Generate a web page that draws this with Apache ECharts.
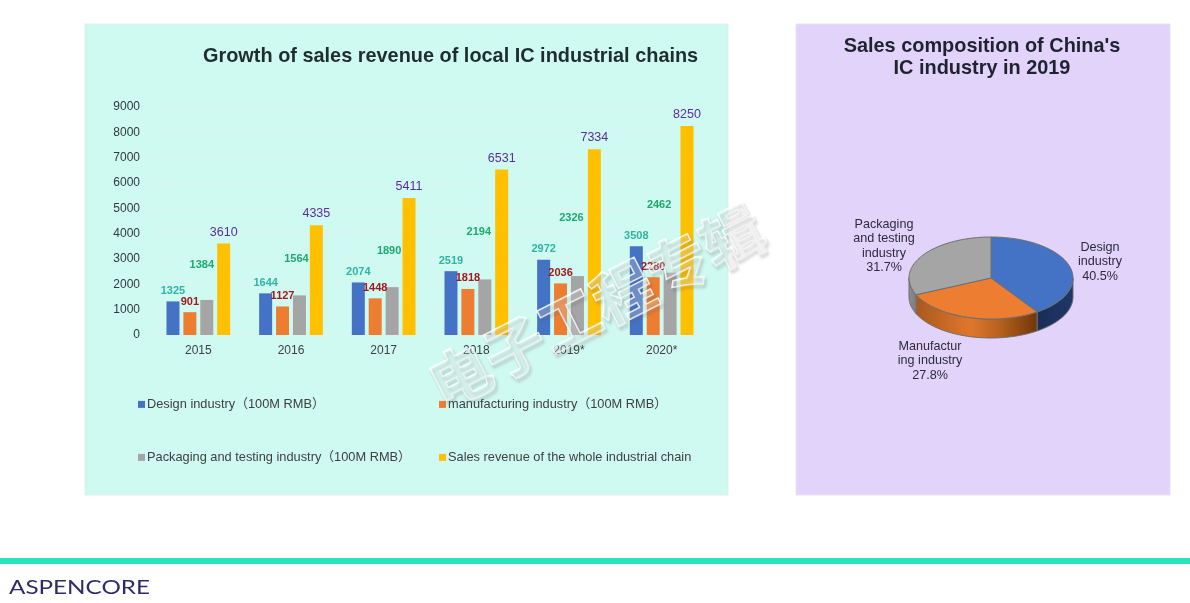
<!DOCTYPE html>
<html>
<head>
<meta charset="utf-8">
<style>html,body{margin:0;padding:0;background:#fff}#c{width:1190px;height:603px}</style>
<script src="https://cdn.jsdelivr.net/npm/echarts@6/dist/echarts.min.js"></script>
</head>
<body>
<div id="c"></div>
<script>
const years = ['2015','2016','2017','2018','2019*','2020*'];
const designValues = [1325,1644,2074,2519,2972,3508];
const manufacturingValues = [901,1127,1448,1818,2036,2280];
const packagingValues = [1384,1564,1890,2194,2326,2462];
const wholeChainValues = [3610,4335,5411,6531,7334,8250];
const yTicks = [0,1000,2000,3000,4000,5000,6000,7000,8000,9000];
const seriesNames = ['Design industry（100M RMB）','manufacturing industry（100M RMB）','Packaging and testing industry（100M RMB）','Sales revenue of the whole industrial chain'];
const pieShares = [40.5,27.8,31.7];
const pieLabels = ['Design\nindustry\n40.5%','Manufactur\ning industry\n27.8%','Packaging\nand testing\nindustry\n31.7%'];

const FONT = '"Liberation Sans","Noto Sans CJK SC",sans-serif';
const colors = ['#4472C4','#ED7D31','#A5A5A5','#FFC000'];
const grayLabelOffset = [[-5,-24],[-3,-26],[-3,-26],[-6,-37],[-6,-48],[-11,-57]];
const pieGeom = {cx:991,cy:278,rx:82,ry:41,depth:19};
const pieLabelPos = [[1100,262],[930,361],[884,246]];

function makeBar(name, values, color, labelColor, fontSize, weight, offsets){
  return {
    type:'bar', name, barWidth:13, barGap:'30%', itemStyle:{color},
    data: values.map((v,i)=>({value:v,label:{offset:offsets?offsets[i]:[0,0]}})),
    label:{show:true,position:'top',color:labelColor,fontSize,fontWeight:weight,fontFamily:FONT}
  };
}
function arc(a,b,dy){
  const g=pieGeom, n=Math.max(2,Math.ceil(Math.abs(b-a)/0.03)), pts=[];
  for(let i=0;i<=n;i++){const t=a+(b-a)*i/n;pts.push([g.cx+g.rx*Math.sin(t),g.cy-g.ry*Math.cos(t)+dy]);}
  return pts;
}
const total = pieShares.reduce((a,b)=>a+b,0);
const sideFill = [
  new echarts.graphic.LinearGradient(0,0,1,0,[{offset:0,color:'#1A2D58'},{offset:1,color:'#1F3767'}]),
  new echarts.graphic.LinearGradient(0,0,1,0,[{offset:0,color:'#A9581F'},{offset:0.45,color:'#DF772C'},{offset:0.7,color:'#B5601F'},{offset:1,color:'#6E3608'}]),
  new echarts.graphic.LinearGradient(0,0,1,0,[{offset:0,color:'#8E8E8E'},{offset:1,color:'#7C7C7C'}])
];
function renderSlice(params, api){
  const idx=params.dataIndex, g=pieGeom;
  let cum=0; for(let i=0;i<idx;i++) cum+=pieShares[i];
  const a=cum/total*2*Math.PI, b=(cum+api.value(0))/total*2*Math.PI;
  const children=[];
  const sa=Math.max(a,Math.PI/2), sb=Math.min(b,3*Math.PI/2);
  const edge={stroke:'#6E6E6E',lineWidth:1};
  if(sb>sa){
    const pts=arc(sa,sb,0).concat(arc(sb,sa,g.depth));
    children.push({type:'polygon',shape:{points:pts},style:Object.assign({fill:sideFill[idx]},edge)});
  }
  children.push({type:'polygon',shape:{points:[[g.cx,g.cy]].concat(arc(a,b,0))},style:Object.assign({fill:colors[idx]},edge)});
  const p=pieLabelPos[idx];
  children.push({type:'text',x:p[0],y:p[1],style:{text:pieLabels[idx],align:'center',verticalAlign:'middle',fill:'#2B2B3C',font:'12.6px '+FONT,lineHeight:14.4}});
  return {type:'group',children};
}
function legendAt(i,left,top){
  return {data:[seriesNames[i]],left,top,icon:'rect',itemWidth:7,itemHeight:7,padding:0,
    textStyle:{color:'#404040',fontSize:12.8,fontFamily:FONT,padding:[0,0,0,-3]}};
}
const chart = echarts.init(document.getElementById('c'),null,{renderer:'canvas'});
chart.setOption({
  animation:false,
  backgroundColor:'#fff',
  title:[
    {text:'Growth of sales revenue of local IC industrial chains',left:203,top:47,padding:0,
     textStyle:{fontFamily:FONT,fontSize:19.9,fontWeight:'bold',color:'#1F2D2D'}},
    {text:"Sales composition of China's\nIC industry in 2019",left:982,top:36,padding:0,textAlign:'center',
     textStyle:{fontFamily:FONT,fontSize:19.9,fontWeight:'bold',color:'#1F2330',lineHeight:22}}
  ],
  legend:[legendAt(0,138,398),legendAt(1,439,398),legendAt(2,138,451),legendAt(3,439,451)],
  grid:{left:152,right:482,top:107,bottom:268,containLabel:false},
  xAxis:{type:'category',data:years,axisTick:{show:false},
    axisLine:{lineStyle:{color:'#DDF3EC'}},
    axisLabel:{color:'#404040',fontSize:12,fontFamily:FONT,margin:10}},
  yAxis:{type:'value',min:yTicks[0],max:yTicks[yTicks.length-1],interval:yTicks[1]-yTicks[0],
    axisLine:{show:false},axisTick:{show:false},
    splitLine:{lineStyle:{color:'#DDF3EC'}},
    axisLabel:{color:'#303A3A',fontSize:12,fontFamily:FONT,margin:12,padding:[4,0,0,0],formatter:v=>String(v)}},
  series:[
    makeBar(seriesNames[0],designValues,colors[0],'#2FB5A3',11,'bold'),
    makeBar(seriesNames[1],manufacturingValues,colors[1],'#A3171F',11,'bold'),
    makeBar(seriesNames[2],packagingValues,colors[2],'#1FA96E',11,'bold',grayLabelOffset),
    makeBar(seriesNames[3],wholeChainValues,colors[3],'#5B2E9E',12.5,'normal'),
    {type:'custom',name:'Sales composition',coordinateSystem:'none',renderItem:renderSlice,data:pieShares.map(v=>[v]),silent:true,clip:false}
  ],
  graphic:[
    {type:'rect',z:0,shape:{x:85,y:24,width:643,height:471},style:{fill:'#CFFAF1',stroke:'#DCEFEA',lineWidth:1}},
    {type:'rect',z:0,shape:{x:796,y:24,width:374,height:471},style:{fill:'#E2D3FB',stroke:'#E9E3F2',lineWidth:1}},
    {type:'rect',z:0,shape:{x:0,y:558,width:1190,height:6},style:{fill:'#28E5BE'}},
    {type:'text',z:1,x:9,y:588,scaleX:1.31,style:{text:'ASPENCORE',align:'left',verticalAlign:'middle',fill:'#2F2A6B',font:'18.5px Lato,"Noto Sans",sans-serif'}},
    {type:'text',z:100,x:596,y:306,rotation:27*Math.PI/180,
     style:{text:'电子工程专辑',align:'center',verticalAlign:'middle',font:'bold 61px "Noto Sans CJK SC"',
       fill:'rgba(255,255,255,0.22)',stroke:'rgba(255,255,255,0.85)',lineWidth:1.5,
       textShadowColor:'rgba(90,90,90,0.4)',textShadowBlur:3,textShadowOffsetX:2,textShadowOffsetY:3}}
  ]
});
</script>
</body>
</html>
